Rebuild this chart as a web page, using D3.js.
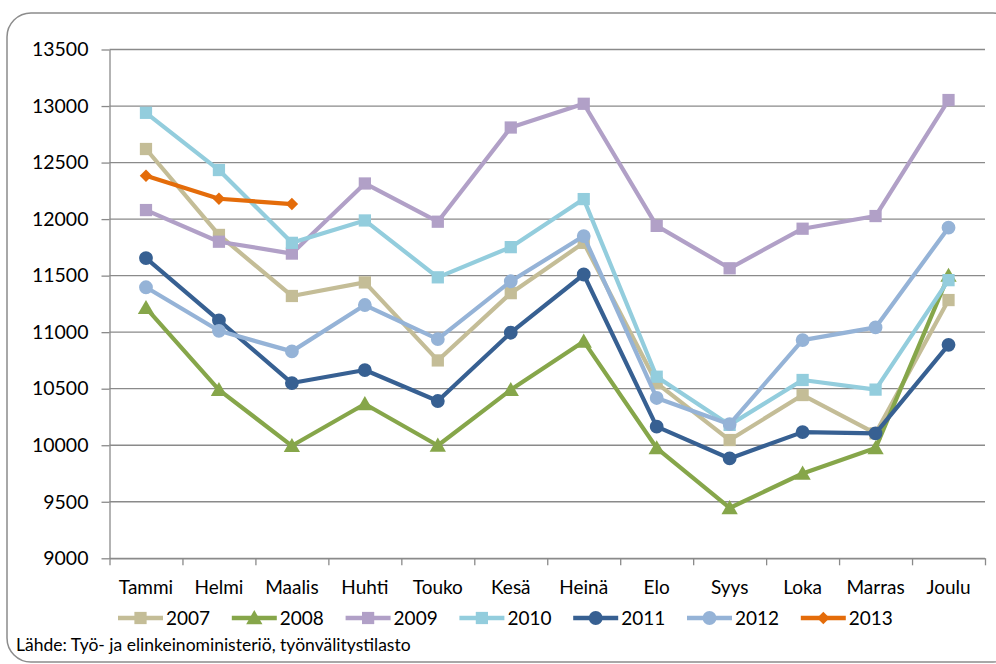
<!DOCTYPE html>
<html>
<head>
<meta charset="utf-8">
<script src="https://cdn.jsdelivr.net/npm/d3@7"></script>
<style>
  body { margin: 0; background: #fff; }
  text { font-family: Lato, "Liberation Sans", sans-serif; fill: #000; }
</style>
</head>
<body>
<div id="main"></div>
<script>
// months and series
var months = ["Tammi", "Helmi", "Maalis", "Huhti", "Touko", "Kesä", "Heinä", "Elo", "Syys", "Loka", "Marras", "Joulu"];
var years = ["2007", "2008", "2009", "2010", "2011", "2012", "2013"];
var v2007 = [12620, 11860, 11320, 11440, 10750, 11345, 11790, 10550, 10046, 10444, 10105, 11284];
var v2008 = [11215, 10490, 9995, 10365, 9998, 10490, 10918, 9975, 9445, 9750, 9975, 11500];
var v2009 = [12080, 11800, 11695, 12315, 11977, 12810, 13020, 11940, 11565, 11915, 12027, 13053];
var v2010 = [12940, 12434, 11790, 11988, 11485, 11752, 12177, 10606, 10180, 10577, 10492, 11460];
var v2011 = [11655, 11105, 10550, 10665, 10391, 10995, 11510, 10164, 9883, 10116, 10105, 10888];
var v2012 = [11397, 11012, 10830, 11240, 10938, 11450, 11850, 10418, 10186, 10930, 11042, 11924];
var v2013 = [12383, 12180, 12133];
var yTicks = [9000, 9500, 10000, 10500, 11000, 11500, 12000, 12500, 13000, 13500];
var sourceText = "Lähde: Työ- ja elinkeinoministeriö, työnvälitystilasto";

var ctx = {
    w: 996,
    h: 664,
    left: 109.5,
    right: 985,
    top: 49.5,
    bottom: 558.3,
};

var seriesList = [
    {name: years[0], values: v2007, color: "#c4bd97", shape: "square"},
    {name: years[1], values: v2008, color: "#86a64a", shape: "triangle"},
    {name: years[2], values: v2009, color: "#b1a0c7", shape: "square"},
    {name: years[3], values: v2010, color: "#93cddd", shape: "square"},
    {name: years[4], values: v2011, color: "#376092", shape: "circle"},
    {name: years[5], values: v2012, color: "#95b3d7", shape: "circle"},
    {name: years[6], values: v2013, color: "#e46c0a", shape: "diamond"},
];

var symbolFor = function(shape){
    if (shape == "square") return d3.symbol().type(d3.symbolSquare).size(150);
    if (shape == "triangle") return d3.symbol().type(d3.symbolTriangle).size(115);
    if (shape == "circle") return d3.symbol().type(d3.symbolCircle).size(150);
    // diamond: a square turned by 45 degrees
    return d3.symbol().type(d3.symbolSquare).size(78);
};
var markerTransform = function(shape, px, py){
    if (shape == "triangle") return "translate(" + px + "," + (py + 1.5) + ")";
    if (shape == "diamond") return "translate(" + px + "," + py + ") rotate(45)";
    return "translate(" + px + "," + py + ")";
};

var svgEl = d3.select("#main").append("svg")
    .attr("width", ctx.w)
    .attr("height", ctx.h);

svgEl.append("rect")
    .attr("x", 7)
    .attr("y", 13)
    .attr("width", 1010)
    .attr("height", 649)
    .attr("rx", 24)
    .attr("fill", "#fff")
    .attr("stroke", "#8c8c8c")
    .attr("stroke-width", 1.5);

var x = d3.scaleBand().domain(months).range([ctx.left, ctx.right]);
var xEdge = d3.scaleLinear().domain([0, months.length]).range([ctx.left, ctx.right]);
var y = d3.scaleLinear().domain([9000, 13500]).range([ctx.bottom, ctx.top]);
var cx = function(i){ return x(months[i]) + x.bandwidth() / 2; };

// gridlines
svgEl.append("g").selectAll("line.grid")
    .data(yTicks)
    .enter()
    .append("line")
    .attr("class", "grid")
    .attr("x1", ctx.left)
    .attr("x2", ctx.right)
    .attr("y1", d => y(d))
    .attr("y2", d => y(d))
    .attr("stroke", "#8a8a8a")
    .attr("stroke-width", 1.3);

// y axis
var yAxis = svgEl.append("g")
    .attr("transform", "translate(" + ctx.left + ",0)")
    .call(d3.axisLeft(y).tickValues(yTicks).tickFormat(d3.format("d")).tickSize(8).tickPadding(13).tickSizeOuter(0));
yAxis.selectAll("text").style("font-size", "19.5px").attr("font-family", "Lato");
yAxis.selectAll("line, path").attr("stroke", "#8a8a8a").attr("stroke-width", 1.3);

// x axis: tick marks at category edges, labels at centres
var xTicks = svgEl.append("g")
    .attr("transform", "translate(0," + ctx.bottom + ")")
    .call(d3.axisBottom(xEdge).tickValues(d3.range(months.length + 1)).tickFormat("").tickSize(7).tickSizeOuter(0));
xTicks.selectAll("line, path").attr("stroke", "#8a8a8a").attr("stroke-width", 1.3);

var xLabels = svgEl.append("g")
    .attr("transform", "translate(0," + ctx.bottom + ")")
    .call(d3.axisBottom(x).tickSize(0).tickPadding(22));
xLabels.select("path").remove();
xLabels.selectAll("text").style("font-size", "19px").attr("font-family", "Lato");

// series
var line = d3.line()
    .x((d, i) => cx(i))
    .y(d => y(d));

var seriesG = svgEl.append("g").attr("id", "series");
seriesList.forEach(function(s){
    var g = seriesG.append("g");
    g.append("path")
        .attr("d", line(s.values))
        .attr("fill", "none")
        .attr("stroke", s.color)
        .attr("stroke-width", 4.2)
        .attr("stroke-linejoin", "round");
    g.selectAll("path.marker")
        .data(s.values)
        .enter()
        .append("path")
        .attr("class", "marker")
        .attr("d", symbolFor(s.shape))
        .attr("transform", (d, i) => markerTransform(s.shape, cx(i), y(d)))
        .attr("fill", s.color);
});

// legend
var legendG = svgEl.append("g").attr("id", "legend");
seriesList.forEach(function(s, i){
    var x0 = 118 + i * 113.8;
    var g = legendG.append("g").attr("transform", "translate(" + x0 + ",618)");
    g.append("line")
        .attr("x1", 0)
        .attr("x2", 45)
        .attr("y1", 0)
        .attr("y2", 0)
        .attr("stroke", s.color)
        .attr("stroke-width", 4.5);
    g.append("path")
        .attr("d", symbolFor(s.shape))
        .attr("transform", markerTransform(s.shape, 22.5, 0))
        .attr("fill", s.color);
    g.append("text")
        .attr("x", 48)
        .attr("y", 7)
        .style("font-size", "19px")
        .text(s.name);
});

svgEl.append("text")
    .attr("x", 16)
    .attr("y", 651)
    .style("font-size", "17.5px")
    .text(sourceText);
</script>
</body>
</html>
